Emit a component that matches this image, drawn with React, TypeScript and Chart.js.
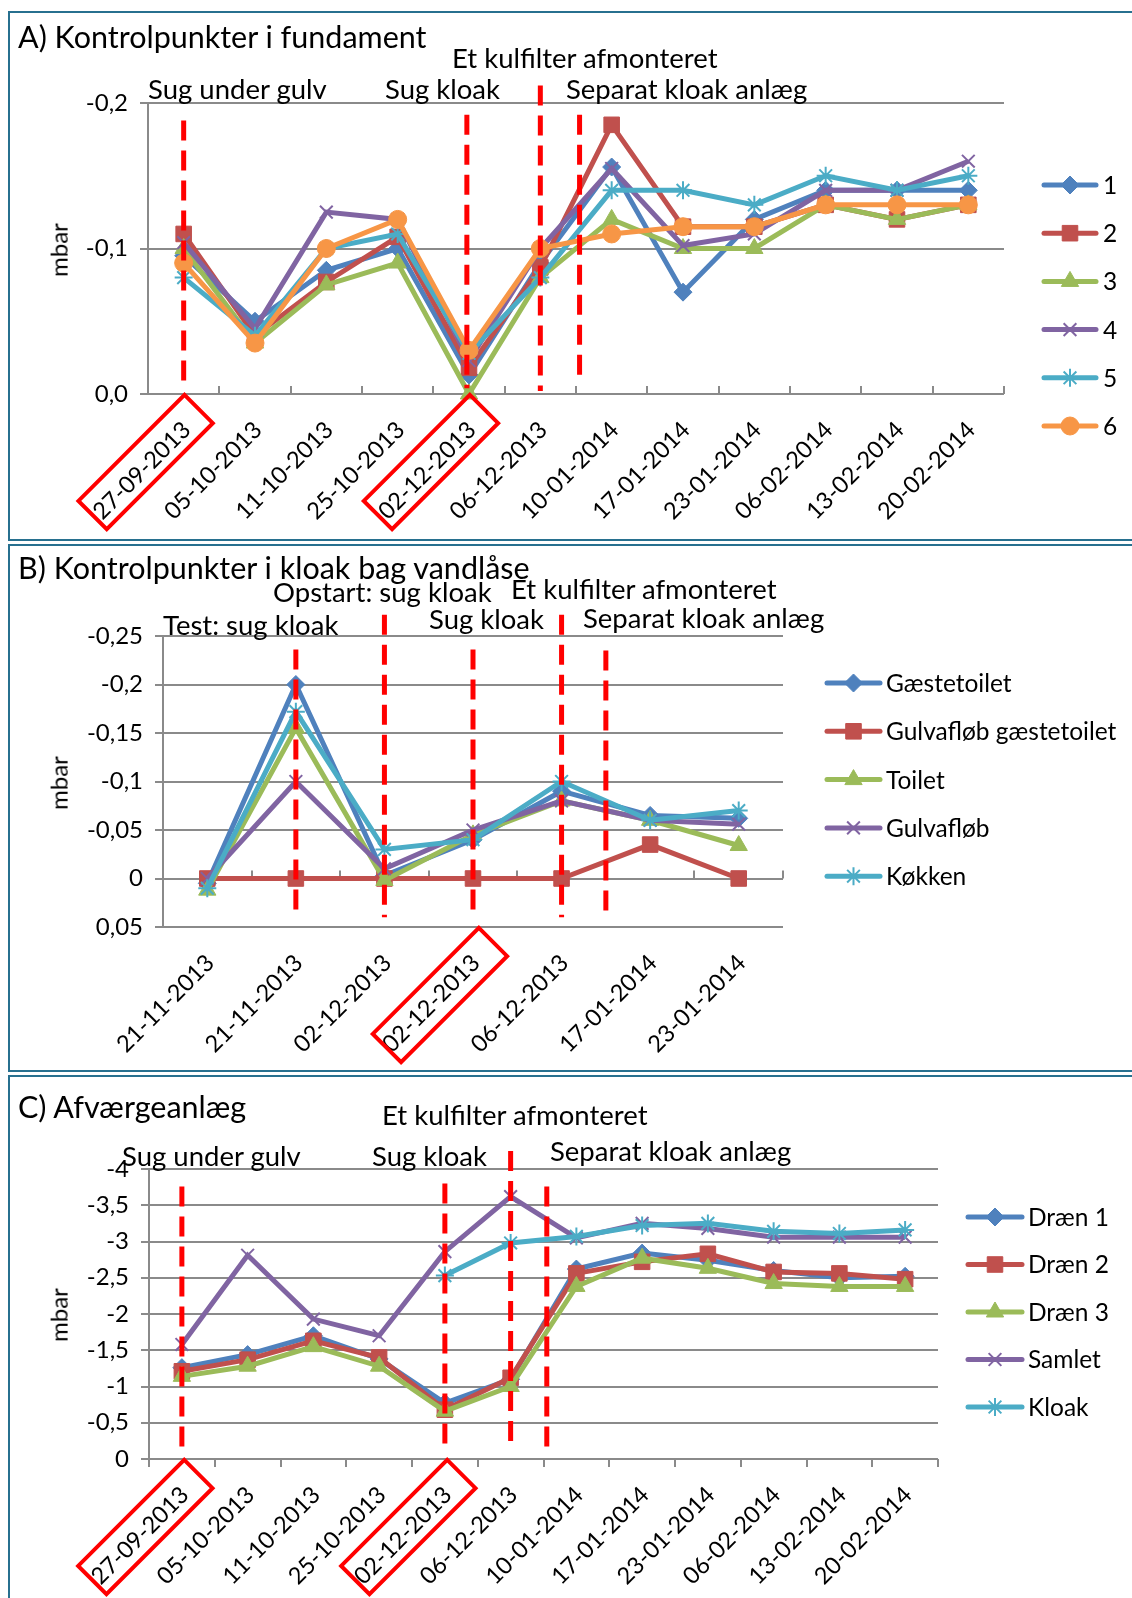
import React, { useEffect, useRef } from 'react';
import { Chart, registerables } from 'chart.js';
import { drawPoint } from 'chart.js/helpers';

Chart.register(...registerables);

const FONT = 'Lato, "Open Sans", sans-serif';
Chart.defaults.font.family = FONT;

// ---------- DATA ----------
const catsA = ['27-09-2013', '05-10-2013', '11-10-2013', '25-10-2013', '02-12-2013', '06-12-2013', '10-01-2014', '17-01-2014', '23-01-2014', '06-02-2014', '13-02-2014', '20-02-2014'];
const namesA = ['1', '2', '3', '4', '5', '6'];
const a1 = [-0.095, -0.05, -0.085, -0.1, -0.013, -0.09, -0.156, -0.07, -0.12, -0.14, -0.14, -0.14];
const a2 = [-0.11, -0.04, -0.077, -0.108, -0.018, -0.087, -0.185, -0.115, -0.115, -0.13, -0.12, -0.13];
const a3 = [-0.1, -0.035, -0.075, -0.09, 0, -0.08, -0.12, -0.1, -0.1, -0.13, -0.12, -0.13];
const a4 = [-0.104, -0.045, -0.125, -0.12, -0.023, -0.1, -0.155, -0.102, -0.11, -0.14, -0.14, -0.16];
const a5 = [-0.08, -0.04, -0.1, -0.11, -0.028, -0.08, -0.14, -0.14, -0.13, -0.15, -0.14, -0.15];
const a6 = [-0.09, -0.035, -0.1, -0.12, -0.03, -0.1, -0.11, -0.115, -0.115, -0.13, -0.13, -0.13];
const yTickValsA = [-0.2, -0.1, 0];
const yTickLabelsA = ['-0,2', '-0,1', '0,0'];

const catsB = ['21-11-2013', '21-11-2013', '02-12-2013', '02-12-2013', '06-12-2013', '17-01-2014', '23-01-2014'];
const namesB = ['Gæstetoilet', 'Gulvafløb gæstetoilet', 'Toilet', 'Gulvafløb', 'Køkken'];
const bGaest = [0.005, -0.2, -0.003, -0.04, -0.09, -0.065, -0.062];
const bGulvG = [0, 0, 0, 0, 0, -0.035, 0];
const bToilet = [0.012, -0.155, 0.002, -0.045, -0.08, -0.06, -0.034];
const bGulv = [0, -0.1, -0.01, -0.05, -0.08, -0.06, -0.056];
const bKokken = [0.01, -0.172, -0.03, -0.04, -0.1, -0.06, -0.07];
const yTickValsB = [-0.25, -0.2, -0.15, -0.1, -0.05, 0, 0.05];
const yTickLabelsB = ['-0,25', '-0,2', '-0,15', '-0,1', '-0,05', '0', '0,05'];

const catsC = ['27-09-2013', '05-10-2013', '11-10-2013', '25-10-2013', '02-12-2013', '06-12-2013', '10-01-2014', '17-01-2014', '23-01-2014', '06-02-2014', '13-02-2014', '20-02-2014'];
const namesC = ['Dræn 1', 'Dræn 2', 'Dræn 3', 'Samlet', 'Kloak'];
const cD1 = [-1.26, -1.44, -1.7, -1.38, -0.77, -1.1, -2.62, -2.84, -2.74, -2.6, -2.5, -2.52];
const cD2 = [-1.21, -1.37, -1.63, -1.4, -0.68, -1.12, -2.56, -2.72, -2.83, -2.58, -2.56, -2.48];
const cD3 = [-1.14, -1.28, -1.55, -1.28, -0.66, -1.0, -2.38, -2.77, -2.63, -2.42, -2.38, -2.38];
const cSam = [-1.58, -2.81, -1.93, -1.7, -2.86, -3.62, -3.05, -3.25, -3.18, -3.06, -3.06, -3.06];
const cKlo = [null, null, null, null, -2.53, -2.98, -3.07, -3.22, -3.25, -3.14, -3.11, -3.16];
const yTickValsC = [-4, -3.5, -3, -2.5, -2, -1.5, -1, -0.5, 0];
const yTickLabelsC = ['-4', '-3,5', '-3', '-2,5', '-2', '-1,5', '-1', '-0,5', '0'];

// ---------- STYLE ----------
const GRID = '#8a8a8a';
const RED = '#ff0000';
const BORDER = '#27708f';
const COLORS6 = ['#4f81bd', '#c0504d', '#9bbb59', '#8064a2', '#4bacc6', '#f79646'];
const STYLES6 = ['rectRot', 'rect', 'triangle', 'crossRot', 'star', 'circle'];
const RADII6 = [9, 11, 10, 9, 9, 9];
const BW6 = [1, 1, 1, 2, 2, 1];
const Y_W = 110;

const decorPlugin = {
  id: 'decor',
  beforeDatasetsDraw(chart: any, _a: any, opts: any) {
    const { ctx } = chart;
    const xs = chart.scales.x, ys = chart.scales.y;
    const n = chart.data.labels.length;
    const by = ys.getPixelForValue(opts.tickBase);
    ctx.save();
    ctx.strokeStyle = GRID;
    ctx.lineWidth = 2;
    ctx.beginPath();
    for (let k = 0; k <= n; k++) {
      const x = Math.round(xs.getPixelForValue(k - 0.5));
      ctx.moveTo(x, by);
      ctx.lineTo(x, by + 8 * opts.tickDir);
    }
    ctx.stroke();
    ctx.restore();
  },
  afterDraw(chart: any, _a: any, opts: any) {
    const { ctx, chartArea } = chart;
    const xs = chart.scales.x, ys = chart.scales.y;
    ctx.save();
    ctx.strokeStyle = RED;
    ctx.lineWidth = 5;
    ctx.setLineDash([20, 10]);
    for (const d of opts.dashes) {
      const x = xs.getPixelForValue(d.idx);
      ctx.beginPath();
      ctx.moveTo(x, ys.getPixelForValue(d.from));
      ctx.lineTo(x, ys.getPixelForValue(d.to));
      ctx.stroke();
    }
    ctx.setLineDash([]);
    ctx.lineWidth = 4;
    const r = Math.SQRT1_2;
    for (const idx of opts.boxes) {
      const xc = xs.getPixelForValue(idx) + opts.boxDx;
      const sx = xc + 15, sy = chartArea.bottom + 15;
      const L = 150, hw = 20;
      const ex = sx - L * r, ey = sy + L * r;
      ctx.beginPath();
      ctx.moveTo(sx - hw * r, sy - hw * r);
      ctx.lineTo(sx + hw * r, sy + hw * r);
      ctx.lineTo(ex + hw * r, ey + hw * r);
      ctx.lineTo(ex - hw * r, ey - hw * r);
      ctx.closePath();
      ctx.stroke();
    }
    const lg = opts.legend;
    chart.data.datasets.forEach((ds: any, i: number) => {
      const y = lg.y0 + i * lg.dy;
      ctx.strokeStyle = ds.borderColor;
      ctx.lineWidth = 5;
      ctx.lineCap = 'round';
      ctx.beginPath();
      ctx.moveTo(lg.x0, y);
      ctx.lineTo(lg.x1, y);
      ctx.stroke();
      ctx.lineCap = 'butt';
      ctx.fillStyle = ds.pointBackgroundColor;
      ctx.strokeStyle = ds.pointBorderColor;
      ctx.lineWidth = ds.pointBorderWidth;
      drawPoint(ctx, { pointStyle: ds.pointStyle, radius: ds.pointRadius, borderWidth: ds.pointBorderWidth, rotation: 0 } as any, (lg.x0 + lg.x1) / 2, y);
      ctx.fillStyle = '#000';
      ctx.font = `24.5px ${FONT}`;
      ctx.textBaseline = 'middle';
      ctx.textAlign = 'left';
      ctx.fillText(ds.label, lg.tx, y + 1);
    });
    ctx.restore();
  },
};

function makeConfig(p: any) {
  const n = p.series.length;
  return {
    type: 'line',
    data: {
      labels: p.labels,
      datasets: p.series.map((s: any, i: number) => ({
        label: p.names[i],
        data: s,
        borderColor: COLORS6[p.colorIdx[i]],
        backgroundColor: COLORS6[p.colorIdx[i]],
        pointBackgroundColor: COLORS6[p.colorIdx[i]],
        pointBorderColor: COLORS6[p.colorIdx[i]],
        pointStyle: STYLES6[p.styleIdx[i]],
        pointRadius: RADII6[p.styleIdx[i]],
        pointBorderWidth: BW6[p.styleIdx[i]],
        borderWidth: 5,
        tension: 0,
        clip: false,
        order: n - i,
      })),
    },
    options: {
      responsive: false,
      animation: false,
      events: [],
      layout: { padding: p.padding },
      plugins: { legend: { display: false }, tooltip: { enabled: false }, decor: p.decor },
      scales: {
        x: {
          type: 'category',
          offset: true,
          grid: { display: false },
          border: { display: false },
          ticks: { autoSkip: false, maxRotation: 45, minRotation: 45, font: { size: 23.5 }, color: '#000', padding: 14, labelOffset: 3 },
          afterFit: (s: any) => { s.height = p.xH; },
        },
        y: {
          type: 'linear',
          reverse: true,
          min: p.yVals[0],
          max: p.yVals[p.yVals.length - 1],
          afterBuildTicks: (s: any) => { s.ticks = p.yVals.map((v: number) => ({ value: v })); },
          afterFit: (s: any) => { s.width = Y_W; },
          ticks: { callback: (_v: any, i: number) => p.yLabels[i], font: { size: 24 }, color: '#000', padding: 12 },
          grid: { color: GRID, lineWidth: 2, tickLength: 8, drawTicks: true },
          border: { display: true, color: GRID, width: 2 },
        },
      },
    },
    plugins: [decorPlugin],
  };
}

function ChartCanvas({ cfg, left, top, width, height }: any) {
  const ref = useRef<HTMLCanvasElement>(null);
  useEffect(() => {
    const chart = new Chart(ref.current as HTMLCanvasElement, cfg as any);
    return () => chart.destroy();
  }, []);
  return <canvas ref={ref} width={width} height={height} style={{ position: 'absolute', left, top, width, height }} />;
}

const cfgA = makeConfig({
  labels: catsA, names: namesA, series: [a1, a2, a3, a4, a5, a6],
  colorIdx: [0, 1, 2, 3, 4, 5], styleIdx: [0, 1, 2, 3, 4, 5],
  yVals: yTickValsA, yLabels: yTickLabelsA, xH: 145,
  padding: { left: 138 - Y_W, top: 90, right: 1122 - 994, bottom: 0 },
  decor: {
    tickBase: 0, tickDir: -1, boxDx: 0,
    dashes: [
      { idx: 0, from: -0.188, to: -0.004 },
      { idx: 3.97, from: -0.192, to: -0.004 },
      { idx: 5, from: -0.212, to: -0.002 },
      { idx: 5.55, from: -0.192, to: -0.011 },
    ],
    boxes: [0, 4],
    legend: { x0: 1034, x1: 1086, tx: 1093, y0: 172, dy: 48.2 },
  },
});

const cfgB = makeConfig({
  labels: catsB, names: namesB, series: [bGaest, bGulvG, bToilet, bGulv, bKokken],
  colorIdx: [0, 1, 2, 3, 4], styleIdx: [0, 1, 2, 3, 4],
  yVals: yTickValsB, yLabels: yTickLabelsB, xH: 143,
  padding: { left: 153 - Y_W, top: 90, right: 1122 - 773, bottom: 0 },
  decor: {
    tickBase: 0, tickDir: -1, boxDx: 5,
    dashes: [
      { idx: 1, from: -0.236, to: 0.038 },
      { idx: 2, from: -0.272, to: 0.04 },
      { idx: 3, from: -0.236, to: 0.038 },
      { idx: 4, from: -0.272, to: 0.04 },
      { idx: 4.5, from: -0.235, to: 0.038 },
    ],
    boxes: [3],
    legend: { x0: 817, x1: 870, tx: 876, y0: 137, dy: 48.3 },
  },
});

const cfgC = makeConfig({
  labels: catsC, names: namesC, series: [cD1, cD2, cD3, cSam, cKlo],
  colorIdx: [0, 1, 2, 3, 4], styleIdx: [0, 1, 2, 3, 4],
  yVals: yTickValsC, yLabels: yTickLabelsC, xH: 139,
  padding: { left: 139 - Y_W, top: 92, right: 1122 - 928, bottom: 0 },
  decor: {
    tickBase: 0, tickDir: 1, boxDx: 1.5,
    dashes: [
      { idx: 0, from: -3.76, to: -0.17 },
      { idx: 4, from: -3.8, to: -0.15 },
      { idx: 5, from: -4.25, to: -0.125 },
      { idx: 5.55, from: -3.76, to: -0.125 },
    ],
    boxes: [0, 4],
    legend: { x0: 958, x1: 1012, tx: 1018, y0: 140, dy: 47.5 },
  },
});

const texts = [
  { t: 'A) Kontrolpunkter i fundament', x: 18, y: 36, s: 30.5 },
  { t: 'Sug under gulv', x: 148, y: 88, s: 27.5 },
  { t: 'Sug kloak', x: 385, y: 88, s: 27.5 },
  { t: 'Et kulfilter afmonteret', x: 452, y: 57, s: 27.5 },
  { t: 'Separat kloak anlæg', x: 566, y: 88, s: 27.5 },
  { t: 'B) Kontrolpunkter i kloak bag vandlåse', x: 18, y: 567, s: 30.5 },
  { t: 'Opstart: sug kloak', x: 273, y: 591, s: 27.5 },
  { t: 'Et kulfilter afmonteret', x: 511, y: 588, s: 27.5 },
  { t: 'Test: sug kloak', x: 163, y: 624, s: 27.5 },
  { t: 'Sug kloak', x: 429, y: 618, s: 27.5 },
  { t: 'Separat kloak anlæg', x: 583, y: 617, s: 27.5 },
  { t: 'C) Afværgeanlæg', x: 18, y: 1106, s: 30.5 },
  { t: 'Et kulfilter afmonteret', x: 382, y: 1114, s: 27.5 },
  { t: 'Sug under gulv', x: 122, y: 1155, s: 27.5 },
  { t: 'Sug kloak', x: 372, y: 1155, s: 27.5 },
  { t: 'Separat kloak anlæg', x: 550, y: 1150, s: 27.5 },
];
const mbars = [250, 783, 1315];

export default function App() {
  return (
    <div style={{ position: 'relative', width: 1132, height: 1598, overflow: 'hidden', background: '#fff', fontFamily: FONT, color: '#000' }}>
      <style>{'body{margin:0;}'}</style>
      <div style={{ position: 'absolute', left: 8, top: 11, width: 1140, height: 530, border: `2px solid ${BORDER}`, boxSizing: 'border-box' }} />
      <div style={{ position: 'absolute', left: 8, top: 544, width: 1140, height: 528, border: `2px solid ${BORDER}`, boxSizing: 'border-box' }} />
      <div style={{ position: 'absolute', left: 8, top: 1075, width: 1140, height: 560, border: `2px solid ${BORDER}`, boxSizing: 'border-box' }} />
      <ChartCanvas cfg={cfgA} left={10} top={13} width={1122} height={526} />
      <ChartCanvas cfg={cfgB} left={10} top={546} width={1122} height={524} />
      <ChartCanvas cfg={cfgC} left={10} top={1077} width={1122} height={521} />
      {texts.map((t, i) => (
        <div key={i} style={{ position: 'absolute', left: t.x, top: t.y, transform: 'translateY(-50%)', fontSize: t.s, lineHeight: 1.2, whiteSpace: 'nowrap' }}>{t.t}</div>
      ))}
      {mbars.map((y, i) => (
        <div key={'m' + i} style={{ position: 'absolute', left: 59, top: y, transform: 'translate(-50%,-50%) rotate(-90deg)', fontSize: 24, lineHeight: 1.2, whiteSpace: 'nowrap' }}>mbar</div>
      ))}
    </div>
  );
}
